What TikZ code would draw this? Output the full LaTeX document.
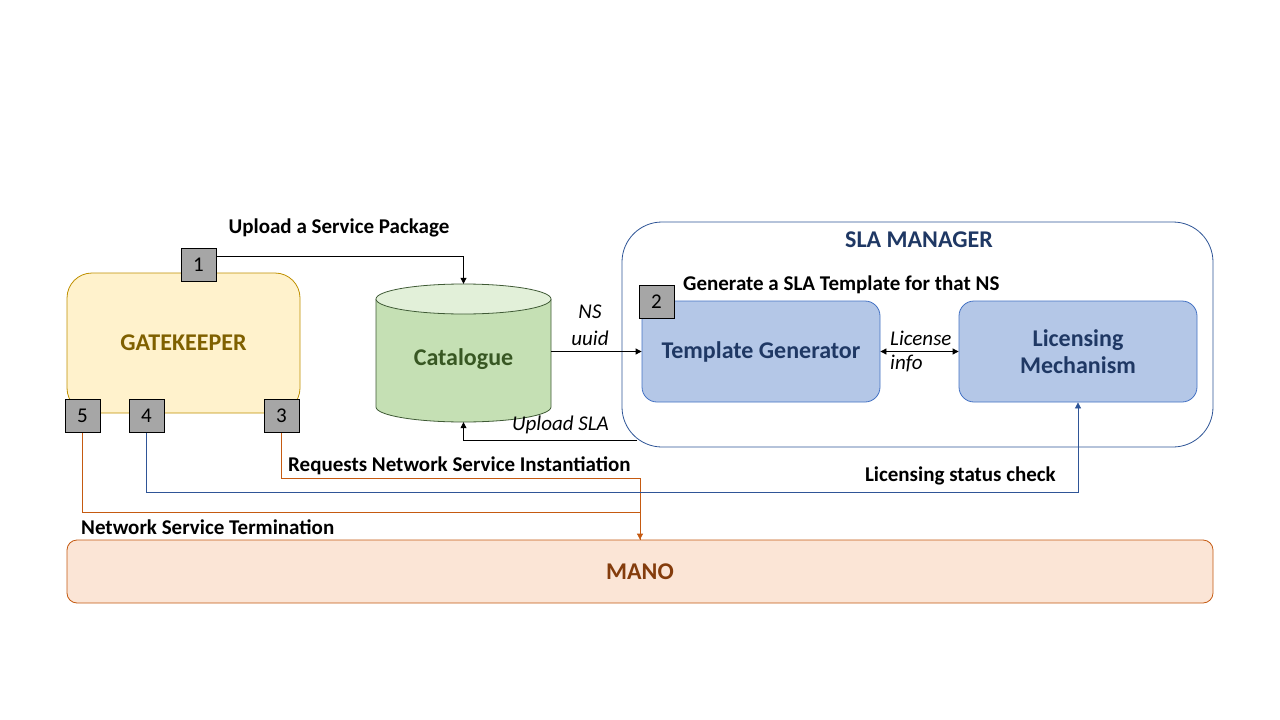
\documentclass[tikz,border=0pt]{standalone}
\usepackage{fontspec}
\setmainfont{Carlito}
\usetikzlibrary{arrows.meta,calc}
\definecolor{gkfill}{HTML}{FFF2CC}
\definecolor{gkdraw}{HTML}{BF9000}
\definecolor{gktext}{HTML}{7F6000}
\definecolor{catfill}{HTML}{C5E0B4}
\definecolor{cattop}{HTML}{E2F0D9}
\definecolor{catdraw}{HTML}{3F5A35}
\definecolor{cattext}{HTML}{385723}
\definecolor{slablue}{HTML}{2F5597}
\definecolor{slatext}{HTML}{1F3864}
\definecolor{boxfill}{HTML}{B4C7E7}
\definecolor{boxdraw}{HTML}{4472C4}
\definecolor{manofill}{HTML}{FBE5D6}
\definecolor{manodraw}{HTML}{C55A11}
\definecolor{manotext}{HTML}{843C0C}
\definecolor{numfill}{HTML}{A6A6A6}
\tikzset{
  big/.style={font=\fontsize{24}{28}\selectfont\bfseries},
  lbl/.style={font=\fontsize{21}{25}\selectfont\bfseries, inner sep=0pt},
  ital/.style={font=\fontsize{21}{25}\selectfont\itshape, inner sep=0pt},
  numbox/.style={draw=black, fill=numfill, line width=0.8pt, minimum width=35pt, minimum height=33pt, inner sep=0pt, font=\fontsize{21}{25}\selectfont},
  arr/.style={-{Triangle[length=6pt,width=6pt]}, line width=0.8pt},
  darr/.style={{Triangle[length=6pt,width=6pt]}-{Triangle[length=6pt,width=6pt]}, line width=0.8pt},
  inner/.style={draw=boxdraw, fill=boxfill, line width=0.8pt, rounded corners=15pt, minimum width=238pt, minimum height=101pt, big, text=slatext, align=center, inner sep=0pt},
}
\begin{document}
\begin{tikzpicture}[x=1pt,y=-1pt]
\useasboundingbox[fill=white] (0,0) rectangle (1280,720);

% gatekeeper
\node[draw=gkdraw, fill=gkfill, line width=0.8pt, rounded corners=25pt, minimum width=233pt, minimum height=140pt, big, text=gktext, inner sep=0pt] (gk) at (183.5,343) {GATEKEEPER};

% SLA manager
\node[draw=slablue, fill=white, line width=0.8pt, rounded corners=40pt, minimum width=591pt, minimum height=225pt, inner sep=0pt] (sla) at (917.5,334.5) {};
\node[big, text=slatext, inner sep=0pt] (slat) at (919,240) {SLA MANAGER};
\node[inner] (tg) at (761,351.5) {Template Generator};
\node[inner] (lm) at (1078,351.5) {Licensing\\[-1pt]Mechanism};

% MANO
\node[draw=manodraw, fill=manofill, line width=0.8pt, rounded corners=10pt, minimum width=1146pt, minimum height=63pt, big, text=manotext, inner sep=0pt] (mano) at (640,571.5) {MANO};

% catalogue cylinder
\path[fill=catfill, draw=catdraw, line width=0.8pt] (376,299) -- (376,407) arc[start angle=180, end angle=360, x radius=87.5pt, y radius=15pt] -- (551,299);
\path[fill=cattop, draw=catdraw, line width=0.8pt] (463.5,299) ellipse[x radius=87.5pt, y radius=15pt];
\node[minimum width=175pt, minimum height=138pt, inner sep=0pt] (cat) at (463.5,353) {};
\node[big, text=cattext, inner sep=0pt] (catl) at (463.5,359) {Catalogue};

% number boxes
\node[numbox] (b1) at (198.5,264.5) {1};
\node[numbox] (b2) at (656.5,302) {2};
\node[numbox] (b3) at (281.5,416) {3};
\node[numbox] (b4) at (146.5,416) {4};
\node[numbox] (b5) at (82.5,416) {5};

% connectors
\draw[arr] ($(b1.east)+(0,-8.5)$) -| (cat.north);
\node[lbl] (l1) at (339,228) {Upload a Service Package};

\draw[arr] (cat.east |- tg.west) -- (tg.west);
\node[ital] (lns) at (590,312) {NS};
\node[ital] (luu) at (590,338) {uuid};

\coordinate (upsrc) at (637,440);
\draw[arr] (upsrc) -| (cat.south);
\node[ital, anchor=west] (lup) at (512,425) {Upload SLA};

\node[lbl, anchor=west] (l2) at (683,285) {Generate a SLA Template for that NS};

\draw[darr] (tg.east) -- (lm.west);
\node[ital, anchor=west] (lli) at (890,338) {License};
\node[ital, anchor=west] (lin) at (890,364) {info};

\draw[manodraw, arr] (b3.south) -- ++(0,45) -| (mano.north);
\node[lbl, anchor=west] (l3) at (288,466) {Requests Network Service Instantiation};

\draw[slablue, arr] (b4.south) -- ++(0,59) -| (lm.south);
\node[lbl, anchor=east] (l4) at (1056,476) {Licensing status check};

\draw[manodraw, line width=0.8pt] (b5.south) -- ++(0,79) -| (mano.north);
\node[lbl, anchor=west] (l5) at (81,527) {Network Service Termination};
\end{tikzpicture}
\end{document}
